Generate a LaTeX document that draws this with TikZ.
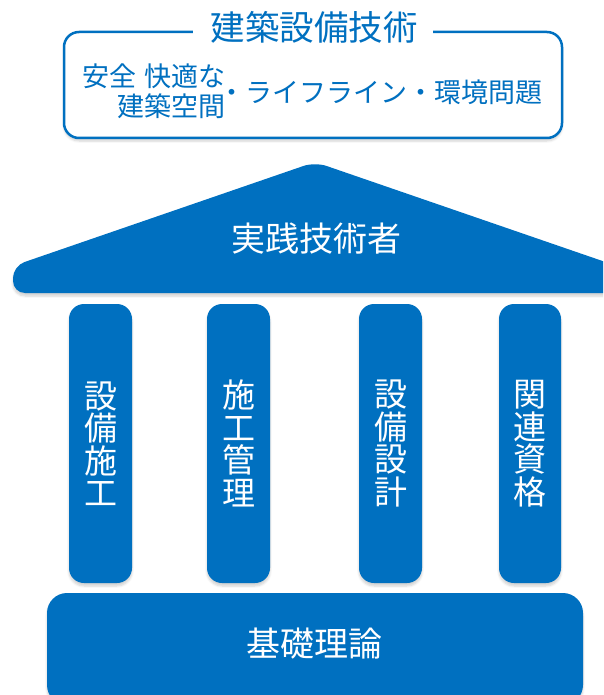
\documentclass[tikz,border=0pt]{standalone}
\usepackage{fontspec}
\setmainfont{Noto Sans CJK JP}
\usetikzlibrary{shadows.blur}
\definecolor{mainblue}{RGB}{0,112,192}
\tikzset{
  softshadow/.style={blur shadow={shadow xshift=0pt, shadow yshift=-3pt, shadow blur steps=6, shadow blur extra rounding=2pt, shadow opacity=18, shadow scale=1}},
  pillar/.style={fill=mainblue, rounded corners=15pt, softshadow},
  pillartext/.style={text=white, align=center, font=\fontsize{33pt}{32.5pt}\selectfont, inner sep=0pt},
  bigtext/.style={text=white, font=\fontsize{34pt}{34pt}\selectfont, inner sep=0pt},
  subtext/.style={text=mainblue, font=\fontsize{27pt}{27pt}\selectfont, inner sep=0pt}
}
\begin{document}
\begin{tikzpicture}[x=1pt,y=-1pt]
\useasboundingbox (0,0) rectangle (603,695);
\begin{scope}
\clip (0,0) rectangle (603,695);
% top box
\draw[mainblue, line width=2.5pt, fill=white, rounded corners=15pt, softshadow] (64,32) rectangle (562,138);
\node[fill=white, minimum width=240pt, minimum height=30pt, inner sep=0pt] (titlebg) at (313,30) {};
\node[anchor=base, text=mainblue, font=\fontsize{34.5pt}{34.5pt}\selectfont, inner sep=0pt] (title) at (314,41) {建築設備技術};
\node[subtext, anchor=base east] (l1) at (226,87) {安全\hspace{0.3em}快適な};
\node[subtext, anchor=base east] (l2) at (226,117) {建築空間};
\node[subtext, anchor=base west] (l3) at (218,103) {・ライフライン・環境問題};
% roof
\fill[mainblue, rounded corners=12pt, softshadow] (315,162) -- (13,266) -- (13,293) -- (617,293) -- (617,266) -- cycle;
\node[bigtext, anchor=base] (roof) at (316,251) {実践技術者};
% pillars
\fill[pillar] (69,304) rectangle (132,583);
\fill[pillar] (207,304) rectangle (270,583);
\fill[pillar] (359,304) rectangle (422,583);
\fill[pillar] (499,304) rectangle (561,583);
\node[pillartext] (p1) at (100.5,443.5) {設\\備\\施\\工};
\node[pillartext] (p2) at (238.5,443.5) {施\\工\\管\\理};
\node[pillartext] (p3) at (390.5,443.5) {設\\備\\設\\計};
\node[pillartext] (p4) at (530,443.5) {関\\連\\資\\格};
% base
\fill[mainblue, rounded corners=20pt, softshadow] (47,593) rectangle (583,705);
\node[bigtext, anchor=base] (basetext) at (314,656) {基礎理論};
\end{scope}
\end{tikzpicture}
\end{document}
